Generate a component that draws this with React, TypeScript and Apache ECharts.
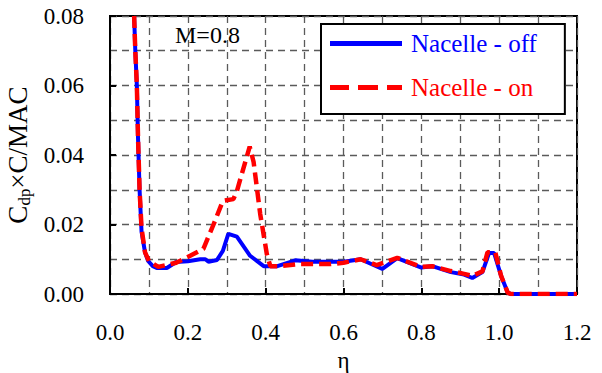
import React, { useEffect, useRef } from "react";
import * as echarts from "echarts";

// Spanwise position η and sectional drag Cdp×C/MAC
const etaOff = [0.062, 0.065, 0.069, 0.072, 0.076, 0.081, 0.09, 0.098, 0.11, 0.12, 0.146, 0.17, 0.2, 0.232, 0.245, 0.253, 0.275, 0.29, 0.304, 0.326, 0.36, 0.395, 0.43, 0.476, 0.52, 0.6, 0.644, 0.7, 0.738, 0.8, 0.828, 0.876, 0.91, 0.931, 0.957, 0.974, 0.987, 1.005, 1.022, 1.03, 1.2];
const cdOff = [0.08, 0.07, 0.06, 0.045, 0.03, 0.018, 0.012, 0.0095, 0.008, 0.0075, 0.0075, 0.0092, 0.0094, 0.01, 0.01, 0.0093, 0.0098, 0.0124, 0.0173, 0.0165, 0.011, 0.008, 0.008, 0.0097, 0.0093, 0.0093, 0.01, 0.0072, 0.0103, 0.0076, 0.008, 0.0063, 0.0056, 0.0046, 0.0063, 0.0118, 0.0118, 0.0052, 0.0004, 0, 0];

const etaOn = [0.062, 0.065, 0.069, 0.072, 0.076, 0.081, 0.09, 0.1, 0.124, 0.17, 0.206, 0.24, 0.266, 0.29, 0.317, 0.326, 0.359, 0.369, 0.386, 0.403, 0.412, 0.43, 0.489, 0.567, 0.6, 0.644, 0.685, 0.738, 0.8, 0.828, 0.876, 0.91, 0.931, 0.957, 0.97, 0.99, 1.005, 1.022, 1.03, 1.2];
const cdOn = [0.08, 0.07, 0.06, 0.045, 0.03, 0.019, 0.012, 0.0095, 0.0078, 0.009, 0.011, 0.013, 0.02, 0.0268, 0.0273, 0.0296, 0.0424, 0.038, 0.023, 0.0115, 0.008, 0.008, 0.0086, 0.0086, 0.009, 0.01, 0.0083, 0.0104, 0.0078, 0.008, 0.0066, 0.0058, 0.0052, 0.0065, 0.012, 0.012, 0.0052, 0.0004, 0, 0];

const seriesNames = ["Nacelle - off", "Nacelle - on"];
const machLabel = "M=0.8";

const FONT = "Times New Roman, Liberation Serif, DejaVu Serif, serif";
const BLUE = "#0000ff";
const RED = "#ff0000";
const gridDash = { color: "#5a5a5a", width: 1.3, type: [7, 5] as number[] };

// legend keys: a solid bar and a three-dash bar
const solidKey = "path://M0,0H72V5H0Z";
const dashKey = "path://M0,0H19V5H0Z M28,0H48V5H28Z M57,0H72V5H57Z";

const zip = (xs: number[], ys: number[]) => xs.map((x, i) => [x, ys[i]]);

export default function App() {
  const ref = useRef<HTMLDivElement>(null);

  useEffect(() => {
    if (!ref.current) return;
    const chart = echarts.init(ref.current, null, { renderer: "svg" });
    chart.setOption({
      animation: false,
      backgroundColor: "#ffffff",
      textStyle: { fontFamily: FONT },
      grid: {
        left: 110,
        right: 25,
        top: 16,
        bottom: 79,
        containLabel: false,
        outerBoundsMode: "none",
        show: true,
        borderColor: "#000",
        borderWidth: 2,
        backgroundColor: "transparent",
      },
      xAxis: {
        type: "value",
        min: 0,
        max: 1.2,
        interval: 0.2,
        name: "η",
        nameLocation: "middle",
        nameGap: 47,
        nameTextStyle: { fontFamily: FONT, fontSize: 23, color: "#000" },
        axisLine: { show: true, onZero: false, lineStyle: { color: "#000", width: 2 } },
        axisTick: { show: true, inside: true, length: 6, lineStyle: { color: "#000", width: 2 } },
        axisLabel: {
          margin: 27,
          fontFamily: FONT,
          fontSize: 23,
          color: "#000",
          formatter: (v: number) => v.toFixed(1),
        },
        splitLine: { show: true, lineStyle: gridDash },
        minorTick: { show: false, splitNumber: 2 },
        minorSplitLine: { show: true, lineStyle: gridDash },
      },
      yAxis: {
        type: "value",
        min: 0,
        max: 0.08,
        interval: 0.02,
        name: "{a|C}{b|dp}{a|×C/MAC}",
        nameLocation: "middle",
        nameRotate: 90,
        nameGap: 68,
        nameTextStyle: {
          fontFamily: FONT,
          color: "#000",
          rich: {
            a: { fontFamily: FONT, fontSize: 27, color: "#000", lineHeight: 30 },
            b: { fontFamily: FONT, fontSize: 17, color: "#000", lineHeight: 17, verticalAlign: "bottom" },
          },
        },
        axisLine: { show: true, onZero: false, lineStyle: { color: "#000", width: 2 } },
        axisTick: { show: true, inside: true, length: 6, lineStyle: { color: "#000", width: 2 } },
        axisLabel: {
          margin: 26,
          fontFamily: FONT,
          fontSize: 23,
          color: "#000",
          formatter: (v: number) => v.toFixed(2),
        },
        splitLine: { show: true, lineStyle: gridDash },
        minorTick: { show: false, splitNumber: 2 },
        minorSplitLine: { show: true, lineStyle: gridDash },
      },
      legend: {
        show: true,
        orient: "vertical",
        left: 321,
        top: 24,
        padding: [7, 28, 14, 9],
        itemGap: 19,
        itemWidth: 72,
        itemHeight: 5,
        backgroundColor: "#fff",
        borderColor: "#000",
        borderWidth: 2,
        borderRadius: 0,
        selectedMode: false,
        data: [
          { name: seriesNames[0], icon: solidKey, itemStyle: { color: BLUE }, textStyle: { color: BLUE } },
          { name: seriesNames[1], icon: dashKey, itemStyle: { color: RED }, textStyle: { color: RED } },
        ],
        textStyle: { fontFamily: FONT, fontSize: 25, padding: [0, 0, 0, 4] },
      },
      graphic: [
        {
          type: "text",
          left: 175,
          top: 23,
          style: { text: machLabel, fontFamily: FONT, fontSize: 24, fill: "#000" },
          z: 10,
        },
      ],
      series: [
        {
          name: seriesNames[0],
          type: "line",
          data: zip(etaOff, cdOff),
          symbol: "none",
          clip: true,
          lineStyle: { color: BLUE, width: 4, type: "solid" },
          itemStyle: { color: BLUE },
          emphasis: { disabled: true },
          z: 3,
        },
        {
          name: seriesNames[1],
          type: "line",
          data: zip(etaOn, cdOn),
          symbol: "none",
          clip: true,
          lineStyle: { color: RED, width: 4.5, type: [12, 6] },
          itemStyle: { color: RED },
          emphasis: { disabled: true },
          z: 4,
        },
      ],
    });
    return () => chart.dispose();
  }, []);

  return (
    <div
      ref={ref}
      style={{ position: "absolute", left: 0, top: 0, width: 602, height: 373 }}
    />
  );
}
